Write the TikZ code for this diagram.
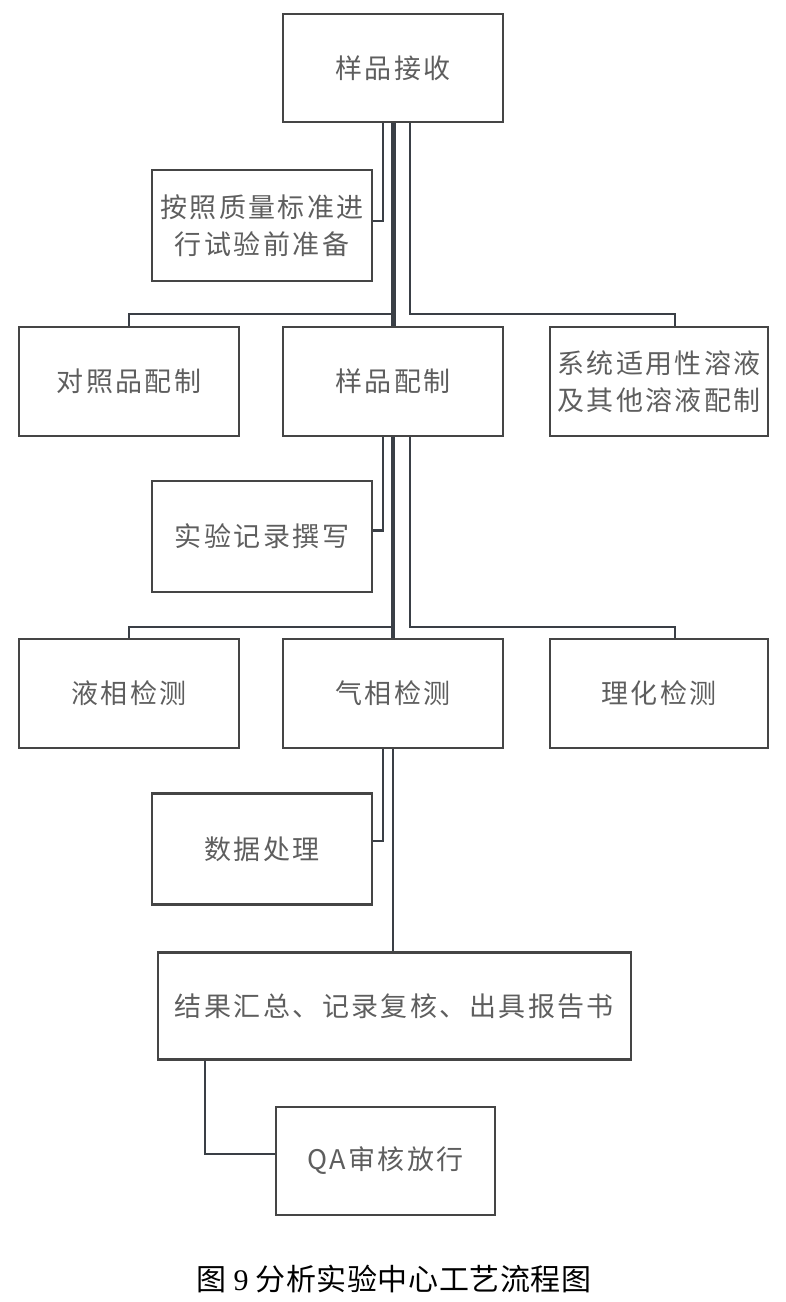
\documentclass[tikz,border=0pt]{standalone}
\usepackage{fontspec}
\newfontfamily\cjk[LetterSpace=9]{Noto Sans CJK SC}
\newfontfamily\cjkcap[LetterSpace=2]{Noto Sans CJK SC}
\newfontfamily\serifnum{Liberation Serif}
\definecolor{boxc}{HTML}{454545}
\definecolor{linec}{HTML}{3A3F46}
\definecolor{txtc}{HTML}{5E5E5E}
\tikzset{
  box/.style={draw=boxc, line width=2.6pt, minimum width=220pt, minimum height=109pt,
    inner sep=0pt, font=\fontsize{27}{37}\selectfont\cjk, text=txtc, align=center},
  conn/.style={draw=linec, line width=2.3pt},
}
\begin{document}
\begin{tikzpicture}[x=1pt,y=-1pt]
\useasboundingbox (0,0) rectangle (785,1302);
% nodes
\node[box, minimum height=108pt] (top) at (393,68) {样品接收};
\node[box, minimum height=111pt] (a1) at (262,225.5) {按照质量标准进\\行试验前准备};
\node[box] (l2) at (129,381.5) {对照品配制};
\node[box] (s2) at (393,381.5) {样品配制};
\node[box, minimum width=218pt] (r2) at (659,381.5) {系统适用性溶液\\及其他溶液配制};
\node[box, minimum height=111pt] (a2) at (262,536.5) {实验记录撰写};
\node[box] (l3) at (129,693.5) {液相检测};
\node[box] (s3) at (393,693.5) {气相检测};
\node[box, minimum width=218pt] (r3) at (659,693.5) {理化检测};
\node[box, minimum height=111pt] (a3) at (262,849) {数据处理};
\node[box, minimum width=473pt, minimum height=107pt] (res) at (394.5,1006) {结果汇总、记录复核、出具报告书};
\node[box, minimum width=219pt, minimum height=108pt] (qa) at (385.5,1161) {QA审核放行};
% bus coordinates
\coordinate (b1) at (393,314);
\coordinate (rb1) at (675,314);
\coordinate (b2) at (393,627);
\coordinate (rb2) at (675,627);
% connectors level 1
\draw[conn] ([xshift=-10pt]top.south) |- ([yshift=4.5pt]a1.east);
\draw[conn] (top.south) |- (b1) -| (l2.north);
\draw[conn] ([xshift=17pt]top.south) |- (rb1) -- (rb1 |- r2.north);
\draw[conn, line width=5pt] (top.south) -- (s2.north);
% connectors level 2
\draw[conn] ([xshift=-10pt]s2.south) |- ([yshift=6pt]a2.east);
\draw[conn] (s2.south) |- (b2) -| (l3.north);
\draw[conn] ([xshift=17pt]s2.south) |- (rb2) -- (rb2 |- r3.north);
\draw[conn, line width=3.4pt] (s2.south) -- (s3.north);
% connectors level 3
\draw[conn] ([xshift=-10pt]s3.south) |- ([yshift=8pt]a3.east);
\draw[conn, line width=2.8pt] (s3.south) -- (s3.south |- res.north);
% result to QA
\draw[conn] ([xshift=48pt]res.south west) |- ([yshift=7pt]qa.west);
% caption
\node[font=\fontsize{30}{36}\selectfont\cjkcap, text=black, inner sep=0pt] (cap) at (394,1279)
  {图\hspace{7pt}{\serifnum 9}\hspace{7pt}分析实验中心工艺流程图};
\end{tikzpicture}
\end{document}
